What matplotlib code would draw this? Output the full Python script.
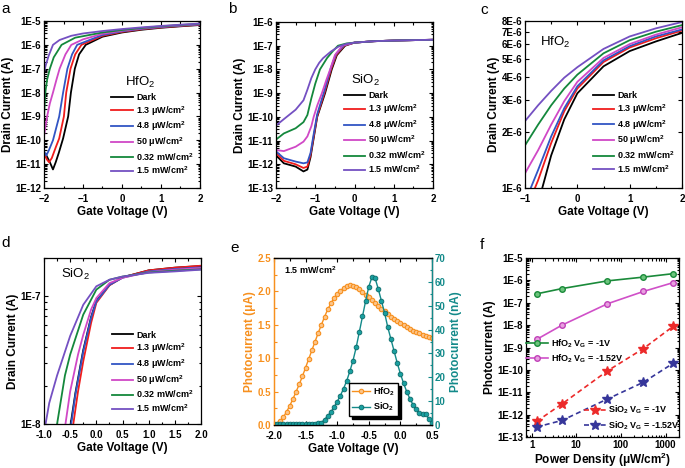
import numpy as np
import matplotlib
matplotlib.use("Agg")
import matplotlib.pyplot as plt
from matplotlib.ticker import FixedLocator, LogLocator, MultipleLocator, NullFormatter, FormatStrFormatter

plt.rcParams['font.family'] = ['Liberation Sans', 'DejaVu Sans']
plt.rcParams['font.weight'] = 'bold'
plt.rcParams['axes.labelweight'] = 'bold'
plt.rcParams['mathtext.default'] = 'regular'
plt.rcParams['axes.linewidth'] = 0.9

# ---- common series info ----
light_labels = ["Dark", "1.3 μW/cm$^2$", "4.8 μW/cm$^2$", "50 μW/cm$^2$",
                "0.32 mW/cm$^2$", "1.5 mW/cm$^2$"]
light_colors = ["#000000", "#f01c1c", "#3255c4", "#d048c6", "#14883c", "#7450c2"]

# ---- panel a: HfO2 transfer (log) ----
a_v = [
    [-1.95, -1.85, -1.77, -1.70, -1.62, -1.51, -1.38, -1.31, -1.21, -1.10, -0.93, -0.5, 0, 0.5, 1, 1.5, 2],
    [-2.0, -1.93, -1.87, -1.80, -1.70, -1.61, -1.49, -1.43, -1.32, -1.20, -1.04, -0.5, 0, 0.5, 1, 1.5, 2],
    [-2.0, -1.94, -1.87, -1.77, -1.61, -1.51, -1.40, -1.28, -1.15, -0.5, 0, 0.5, 1, 1.5, 2],
    [-2.0, -1.96, -1.92, -1.85, -1.77, -1.68, -1.60, -1.45, -1.30, -1.0, -0.5, 0, 0.5, 1, 1.5, 2],
    [-2.0, -1.98, -1.96, -1.92, -1.85, -1.75, -1.55, -1.2, -0.5, 0, 0.5, 1, 1.5, 2],
    [-2.0, -1.95, -1.88, -1.77, -1.6, -1.3, -1.0, -0.5, 0, 0.5, 1, 1.5, 2],
]
a_i = [
    [2.5e-11, 1.2e-11, 6e-12, 1.2e-11, 3e-11, 1.2e-10, 1e-9, 1e-8, 1e-7, 4e-7, 1e-6, 2.2e-6, 3.3e-6, 4.3e-6, 5.2e-6, 6.0e-6, 6.8e-6],
    [3e-11, 1.6e-11, 1.2e-11, 1.8e-11, 5e-11, 1.2e-10, 1e-9, 1e-8, 1e-7, 4e-7, 1e-6, 2.4e-6, 3.5e-6, 4.5e-6, 5.4e-6, 6.2e-6, 7.0e-6],
    [3.5e-11, 2.3e-11, 4e-11, 1e-10, 1e-9, 1e-8, 1e-7, 4e-7, 1e-6, 2.6e-6, 3.7e-6, 4.7e-6, 5.6e-6, 6.4e-6, 7.2e-6],
    [1.5e-10, 4e-10, 1e-9, 3.5e-9, 1e-8, 3.5e-8, 1e-7, 4e-7, 1e-6, 1.7e-6, 2.9e-6, 3.9e-6, 4.9e-6, 5.8e-6, 6.6e-6, 7.4e-6],
    [8e-10, 4e-9, 1.2e-8, 3.5e-8, 1e-7, 3e-7, 1e-6, 2e-6, 3.3e-6, 4.2e-6, 5.1e-6, 6.0e-6, 6.8e-6, 7.6e-6],
    [7e-8, 1.5e-7, 3.5e-7, 1e-6, 1.6e-6, 2.4e-6, 3.0e-6, 3.8e-6, 4.6e-6, 5.4e-6, 6.2e-6, 7.0e-6, 7.8e-6],
]

# ---- panel b: SiO2 transfer (log) ----
b_tail_v = [0, 0.5, 1.0, 1.5, 2.0]
b_v = [
    [-2.0, -1.8, -1.5, -1.3, -1.2, -1.12, -1.05, -0.95, -0.75, -0.58, -0.45, -0.24] + b_tail_v,
    [-2.0, -1.8, -1.5, -1.3, -1.2, -1.12, -1.05, -0.95, -0.76, -0.59, -0.46, -0.25] + b_tail_v,
    [-2.0, -1.8, -1.5, -1.3, -1.2, -1.12, -1.05, -0.95, -0.77, -0.60, -0.47, -0.26] + b_tail_v,
    [-2.0, -1.8, -1.5, -1.3, -1.2, -1.1, -1.04, -0.95, -0.83, -0.72, -0.62, -0.5, -0.31] + b_tail_v,
    [-2.0, -1.8, -1.5, -1.3, -1.2, -1.1, -1.0, -0.88, -0.7, -0.55, -0.42, -0.2] + b_tail_v,
    [-2.0, -1.8, -1.5, -1.3, -1.2, -1.1, -1.0, -0.9, -0.8, -0.6, -0.4, -0.2] + b_tail_v,
]
b_tail_i = [1.35e-7, 1.55e-7, 1.65e-7, 1.72e-7, 1.78e-7]
b_i = [
    [2.4e-12, 1.1e-12, 8e-13, 5e-13, 6e-13, 2e-12, 1e-11, 1e-10, 1e-9, 1e-8, 4e-8, 1e-7] + b_tail_i,
    [3e-12, 1.4e-12, 1e-12, 7e-13, 8e-13, 2.5e-12, 1.2e-11, 1.1e-10, 1.1e-9, 1.1e-8, 4.2e-8, 1.05e-7] + b_tail_i,
    [3.5e-12, 1.8e-12, 1.3e-12, 1.1e-12, 1.2e-12, 3e-12, 1.5e-11, 1.3e-10, 1.2e-9, 1.2e-8, 4.5e-8, 1.08e-7] + b_tail_i,
    [4e-12, 3.6e-12, 5.5e-12, 9e-12, 1.5e-11, 4e-11, 1e-10, 3e-10, 1e-9, 3.5e-9, 1e-8, 4e-8, 1e-7] + b_tail_i,
    [1.1e-11, 2e-11, 3.3e-11, 6e-11, 1.2e-10, 6e-10, 2.5e-9, 1e-8, 3e-8, 6e-8, 1e-7, 1.25e-7] + b_tail_i,
    [4.3e-11, 8e-11, 2e-10, 5e-10, 1.4e-9, 4.3e-9, 1e-8, 1.9e-8, 3e-8, 5.7e-8, 9.3e-8, 1.2e-7] + b_tail_i,
]

# ---- panel c: HfO2 zoom (log) ----
c_v = [
    [-0.67, -0.5, -0.25, 0, 0.5, 1, 1.5, 2],
    [-0.81, -0.75, -0.5, -0.25, 0, 0.5, 1, 1.5, 2],
    [-0.89, -0.75, -0.5, -0.25, 0, 0.5, 1, 1.5, 2],
    [-1, -0.75, -0.5, -0.25, 0, 0.5, 1, 1.5, 2],
    [-1, -0.75, -0.5, -0.25, 0, 0.5, 1, 1.5, 2],
    [-1, -0.75, -0.5, -0.25, 0, 0.5, 1, 1.5, 2],
]
c_i = [
    [1.0e-6, 1.5e-6, 2.35e-6, 3.25e-6, 4.55e-6, 5.5e-6, 6.2e-6, 6.9e-6],
    [1.0e-6, 1.1e-6, 1.75e-6, 2.6e-6, 3.45e-6, 4.8e-6, 5.75e-6, 6.45e-6, 7.1e-6],
    [1.0e-6, 1.25e-6, 1.9e-6, 2.7e-6, 3.55e-6, 4.9e-6, 5.85e-6, 6.6e-6, 7.2e-6],
    [1.2e-6, 1.6e-6, 2.2e-6, 2.95e-6, 3.75e-6, 5.05e-6, 6.0e-6, 6.75e-6, 7.4e-6],
    [1.7e-6, 2.2e-6, 2.8e-6, 3.45e-6, 4.1e-6, 5.35e-6, 6.3e-6, 7.0e-6, 7.6e-6],
    [2.3e-6, 2.8e-6, 3.35e-6, 3.95e-6, 4.5e-6, 5.65e-6, 6.6e-6, 7.3e-6, 7.9e-6],
]

# ---- panel d: SiO2 zoom (log) ----
d_v = [
    [-0.49, -0.4, -0.25, -0.1, 0, 0.25, 0.5, 1, 1.5, 2],
    [-0.44, -0.35, -0.25, -0.1, 0, 0.25, 0.5, 1, 1.5, 2],
    [-0.48, -0.4, -0.25, -0.1, 0, 0.25, 0.5, 1, 1.5, 2],
    [-0.59, -0.5, -0.35, -0.25, -0.1, 0, 0.25, 0.5, 1, 1.5, 2],
    [-0.75, -0.6, -0.5, -0.25, 0, 0.25, 0.5, 1, 1.5, 2],
    [-0.97, -0.9, -0.75, -0.5, -0.25, 0, 0.25, 0.5, 1, 1.5, 2],
]
d_i = [
    [1.0e-8, 1.75e-8, 3.8e-8, 6.9e-8, 9.2e-8, 1.23e-7, 1.41e-7, 1.6e-7, 1.68e-7, 1.73e-7],
    [1.0e-8, 1.8e-8, 3.1e-8, 6.2e-8, 8.9e-8, 1.22e-7, 1.41e-7, 1.6e-7, 1.68e-7, 1.74e-7],
    [1.0e-8, 1.7e-8, 3.7e-8, 6.8e-8, 9.1e-8, 1.23e-7, 1.4e-7, 1.57e-7, 1.64e-7, 1.69e-7],
    [1.0e-8, 1.8e-8, 3.5e-8, 5.0e-8, 7.9e-8, 9.7e-8, 1.27e-7, 1.4e-7, 1.55e-7, 1.62e-7, 1.67e-7],
    [1.0e-8, 2.4e-8, 3.5e-8, 7.2e-8, 1.13e-7, 1.35e-7, 1.43e-7, 1.54e-7, 1.59e-7, 1.63e-7],
    [1.0e-8, 1.46e-8, 2.4e-8, 4.9e-8, 8.6e-8, 1.2e-7, 1.35e-7, 1.43e-7, 1.53e-7, 1.57e-7, 1.62e-7],
]

# ---- panel e: photocurrent vs gate voltage at 1.5 mW/cm2 ----
e_v = [-2.00, -1.95, -1.90, -1.85, -1.80, -1.75, -1.70, -1.65, -1.60, -1.55,
       -1.50, -1.45, -1.40, -1.35, -1.30, -1.25, -1.20, -1.15, -1.10, -1.05,
       -1.00, -0.95, -0.90, -0.85, -0.80, -0.75, -0.70, -0.65, -0.60, -0.55,
       -0.50, -0.45, -0.40, -0.35, -0.30, -0.25, -0.20, -0.15, -0.10, -0.05,
       0.00, 0.05, 0.10, 0.15, 0.20, 0.25, 0.30, 0.35, 0.40, 0.45, 0.50]
e_hfo2_ua = [0.00, 0.02, 0.06, 0.12, 0.20, 0.29, 0.39, 0.50, 0.61, 0.73,
             0.86, 0.99, 1.12, 1.25, 1.38, 1.50, 1.62, 1.73, 1.82, 1.90,
             1.96, 2.01, 2.05, 2.08, 2.09, 2.08, 2.06, 2.03, 1.99, 1.95,
             1.91, 1.87, 1.83, 1.78, 1.74, 1.70, 1.66, 1.62, 1.58, 1.55,
             1.52, 1.49, 1.46, 1.43, 1.41, 1.39, 1.37, 1.35, 1.33, 1.31, 1.30]
e_sio2_na = [0.5, 0.5, 0.5, 0.5, 0.5, 0.5, 0.5, 0.5, 0.5, 0.5,
             0.5, 0.5, 0.6, 0.6, 0.7, 1.0, 2.3, 3.8, 5.5, 7.5,
             9.8, 12.3, 15.2, 18.5, 22.5, 27.0, 32.5, 39.0, 45.5, 52.0,
             58.0, 62.0, 61.5, 57.0, 52.0, 47.0, 41.0, 36.0, 31.0, 26.0,
             21.5, 17.5, 14.0, 11.0, 8.5, 6.5, 5.0, 4.5, 4.8, 2.5, 0.8]

# ---- panel f: photocurrent vs power density ----
f_power = [1.3, 4.8, 50, 320, 1500]
f_hfo2_1v = [2.5e-7, 4.3e-7, 9.5e-7, 1.4e-6, 2.0e-6]
f_hfo2_152v = [2.3e-9, 1.0e-8, 9e-8, 3.2e-7, 8e-7]
f_sio2_1v = [5e-13, 3e-12, 9e-11, 9e-10, 9e-9]
f_sio2_152v = [2.8e-13, 5.5e-13, 5e-12, 2.8e-11, 2e-10]

W, H = 685, 468
TICK_FS = 7
LABEL_FS = 8.5
LEG_FS = 6.5


def box(l, t, r, b):
    return [l / W, 1 - b / H, (r - l) / W, (b - t) / H]


def style(ax, right=True):
    ax.tick_params(which='both', direction='in', top=True, right=right, labelsize=TICK_FS, width=0.8)
    ax.tick_params(which='major', length=3.2, pad=2)
    ax.tick_params(axis='x', which='major', pad=4)
    ax.tick_params(which='minor', length=1.8)


def log_labels(ax, exps):
    ticks = [10.0 ** e for e in exps]
    ax.yaxis.set_major_locator(FixedLocator(ticks))
    ax.set_yticklabels(['1E%d' % e for e in exps])
    ax.yaxis.set_minor_locator(LogLocator(base=10, subs=np.arange(2, 10), numticks=30))
    ax.yaxis.set_minor_formatter(NullFormatter())


def light_legend(ax, anchor):
    ax.legend(loc='lower left', bbox_to_anchor=anchor, frameon=False, fontsize=LEG_FS,
              handlelength=2.4, handletextpad=0.35, labelspacing=0.22, borderpad=0, borderaxespad=0)


fig = plt.figure(figsize=(6.85, 4.68), dpi=100)

# a
ax = fig.add_axes(box(44, 21, 200, 188))
for v, i, c, lab in zip(a_v, a_i, light_colors, light_labels):
    ax.semilogy(v, i, color=c, lw=1.3, label=lab)
ax.set_xlim(-2, 2)
ax.set_ylim(1e-12, 1e-5)
log_labels(ax, range(-12, -4))
ax.xaxis.set_major_locator(MultipleLocator(1))
ax.xaxis.set_minor_locator(MultipleLocator(0.5))
style(ax)
ax.set_xlabel("Gate Voltage (V)", fontsize=LABEL_FS, labelpad=2)
ax.set_ylabel("Drain Current (A)", fontsize=LABEL_FS, labelpad=1)
ax.text(0.615, 0.635, "HfO$_2$", transform=ax.transAxes, fontsize=9.5, weight='normal', ha='center', va='center')
light_legend(ax, (0.43, 0.07))

# b
ax = fig.add_axes(box(276, 22, 433, 188))
for v, i, c, lab in zip(b_v, b_i, light_colors, light_labels):
    ax.semilogy(v, i, color=c, lw=1.3, label=lab)
ax.set_xlim(-2, 2)
ax.set_ylim(1e-13, 1e-6)
log_labels(ax, range(-13, -5))
ax.xaxis.set_major_locator(MultipleLocator(1))
ax.xaxis.set_minor_locator(MultipleLocator(0.5))
style(ax)
ax.set_xlabel("Gate Voltage (V)", fontsize=LABEL_FS, labelpad=2)
ax.set_ylabel("Drain Current (A)", fontsize=LABEL_FS, labelpad=1)
ax.text(0.567, 0.65, "SiO$_2$", transform=ax.transAxes, fontsize=9.5, weight='normal', ha='center', va='center')
light_legend(ax, (0.43, 0.08))

# c
ax = fig.add_axes(box(525, 21, 682, 188))
for v, i, c, lab in zip(c_v, c_i, light_colors, light_labels):
    ax.semilogy(v, i, color=c, lw=1.3, label=lab)
ax.set_xlim(-1, 2)
ax.set_ylim(1e-6, 8e-6)
ax.yaxis.set_major_locator(FixedLocator([k * 1e-6 for k in range(1, 9)]))
ax.set_yticklabels(['%dE-6' % k for k in range(1, 9)])
ax.yaxis.set_minor_locator(FixedLocator([]))
ax.xaxis.set_major_locator(MultipleLocator(1))
ax.xaxis.set_minor_locator(MultipleLocator(0.5))
style(ax)
ax.set_xlabel("Gate Voltage (V)", fontsize=LABEL_FS, labelpad=2)
ax.set_ylabel("Drain Current (A)", fontsize=LABEL_FS, labelpad=1)
ax.text(0.19, 0.87, "HfO$_2$", transform=ax.transAxes, fontsize=9.5, weight='normal', ha='center', va='center')
light_legend(ax, (0.43, 0.08))

# d
ax = fig.add_axes(box(44, 258, 201, 424))
for v, i, c, lab in zip(d_v, d_i, light_colors, light_labels):
    ax.semilogy(v, i, color=c, lw=1.3, label=lab)
ax.set_xlim(-1, 2)
ax.set_ylim(1e-8, 2e-7)
ax.yaxis.set_major_locator(FixedLocator([1e-8, 1e-7]))
ax.set_yticklabels(['1E-8', '1E-7'])
ax.yaxis.set_minor_locator(FixedLocator([k * 1e-8 for k in range(2, 10)] + [2e-7]))
ax.yaxis.set_minor_formatter(NullFormatter())
ax.xaxis.set_major_locator(MultipleLocator(0.5))
ax.xaxis.set_minor_locator(MultipleLocator(0.25))
ax.xaxis.set_major_formatter(FormatStrFormatter('%.1f'))
style(ax)
ax.set_xlabel("Gate Voltage (V)", fontsize=LABEL_FS, labelpad=2)
ax.set_ylabel("Drain Current (A)", fontsize=LABEL_FS, labelpad=1)
ax.text(0.2, 0.9, "SiO$_2$", transform=ax.transAxes, fontsize=9.5, weight='normal', ha='center', va='center')
light_legend(ax, (0.43, 0.06))

# e
orange = "#f7901e"
teal = "#138a8a"
ax = fig.add_axes(box(274, 258, 432, 425))
ax2 = ax.twinx()
l1, = ax.plot(e_v, e_hfo2_ua, color=orange, lw=1.0, marker='o', ms=3.2, mfc='#fcc488', mec=orange, mew=0.8, label="HfO$_2$")
l2, = ax2.plot(e_v, e_sio2_na, color=teal, lw=1.0, marker='o', ms=3.4, mfc='#1aa0a0', mec='#0c6a6a', mew=0.6, label="SiO$_2$")
ax.set_xlim(-2.0, 0.5)
ax.set_ylim(0, 2.5)
ax2.set_ylim(0, 70)
ax.xaxis.set_major_locator(MultipleLocator(0.5))
ax.xaxis.set_minor_locator(MultipleLocator(0.25))
ax.xaxis.set_major_formatter(FormatStrFormatter('%.1f'))
ax.yaxis.set_major_locator(MultipleLocator(0.5))
ax.yaxis.set_minor_locator(MultipleLocator(0.25))
ax.yaxis.set_major_formatter(FormatStrFormatter('%.1f'))
ax2.yaxis.set_major_locator(MultipleLocator(10))
ax2.yaxis.set_minor_locator(MultipleLocator(5))
style(ax, right=False)
ax2.tick_params(which='both', direction='in', right=True, labelsize=TICK_FS, width=0.8, colors=teal)
ax2.tick_params(which='major', length=3.2, pad=2)
ax2.tick_params(which='minor', length=1.8)
ax.tick_params(axis='y', which='both', colors=orange)
ax2.spines['left'].set_color(orange)
ax2.spines['right'].set_color(teal)
ax.spines['left'].set_color(orange)
ax.set_xlabel("Gate Voltage (V)", fontsize=LABEL_FS, labelpad=2)
ax.set_ylabel("Photocurrent (μA)", fontsize=LABEL_FS, color=orange, labelpad=1)
ax2.set_ylabel("Photocurrent (nA)", fontsize=LABEL_FS, color=teal, labelpad=3)
ax.text(0.063, 0.93, "1.5 mW/cm$^2$", transform=ax.transAxes, fontsize=LEG_FS, ha='left', va='center')
ax2.legend([l1, l2], ["HfO$_2$", "SiO$_2$"], loc='lower left', bbox_to_anchor=(0.475, 0.054),
           fontsize=LEG_FS, fancybox=False, edgecolor='black', framealpha=1,
           shadow={'color': 'black', 'alpha': 1}, borderaxespad=0, handlelength=2.0,
           handletextpad=0.4, labelspacing=0.3, borderpad=0.3)

# f
ax = fig.add_axes(box(526, 258, 679, 437))
h1, = ax.loglog(f_power, f_hfo2_1v, color='#1a8a3a', lw=1.2, marker='o', ms=4, mfc='#6cc47c', mec='#1a8a3a')
h2, = ax.loglog(f_power, f_hfo2_152v, color='#d050c8', lw=1.2, marker='o', ms=4, mfc='#e8a0e0', mec='#c040b8')
h3, = ax.loglog(f_power, f_sio2_1v, color='#ec2a2a', lw=1.2, ls=(0, (3, 2)), marker='*', ms=7, mfc='#ec2a2a', mec='#ec2a2a')
h4, = ax.loglog(f_power, f_sio2_152v, color='#36369a', lw=1.2, ls=(0, (3, 2)), marker='*', ms=7, mfc='#36369a', mec='#36369a')
ax.set_xlim(0.75, 2000)
ax.set_ylim(1e-13, 1e-5)
log_labels(ax, range(-13, -4))
ax.xaxis.set_major_locator(FixedLocator([1, 10, 100, 1000]))
ax.set_xticklabels(['1', '10', '100', '1000'])
ax.xaxis.set_minor_locator(LogLocator(base=10, subs=np.arange(2, 10), numticks=30))
ax.xaxis.set_minor_formatter(NullFormatter())
style(ax)
ax.tick_params(axis='x', which='major', pad=2.5)
ax.set_xlabel("Power Density (μW/cm$^2$)", fontsize=LABEL_FS, labelpad=0)
ax.set_ylabel("Photocurrent (A)", fontsize=LABEL_FS, labelpad=1)
leg1 = ax.legend([h1, h2], ["HfO$_2$ V$_G$ = -1V", "HfO$_2$ V$_G$ = -1.52V"], loc='center left',
                 bbox_to_anchor=(0.0, 0.48), frameon=False, fontsize=LEG_FS, handlelength=2.4,
                 handletextpad=0.4, labelspacing=0.3, borderpad=0, borderaxespad=0)
ax.add_artist(leg1)
ax.legend([h3, h4], ["SiO$_2$ V$_G$ = -1V", "SiO$_2$ V$_G$ = -1.52V"], loc='lower left',
          bbox_to_anchor=(0.38, 0.03), frameon=False, fontsize=LEG_FS, handlelength=2.4,
          handletextpad=0.2, labelspacing=0.3, borderpad=0, borderaxespad=0)

# panel letters
for letter, x, y in [("a", 1, 9), ("b", 228, 9), ("c", 480, 10), ("d", 1, 243), ("e", 230, 248), ("f", 480, 245)]:
    fig.text(x / W, 1 - y / H, letter, fontsize=11, weight='normal', ha='left', va='center')

fig.savefig("out.png", dpi=100)
